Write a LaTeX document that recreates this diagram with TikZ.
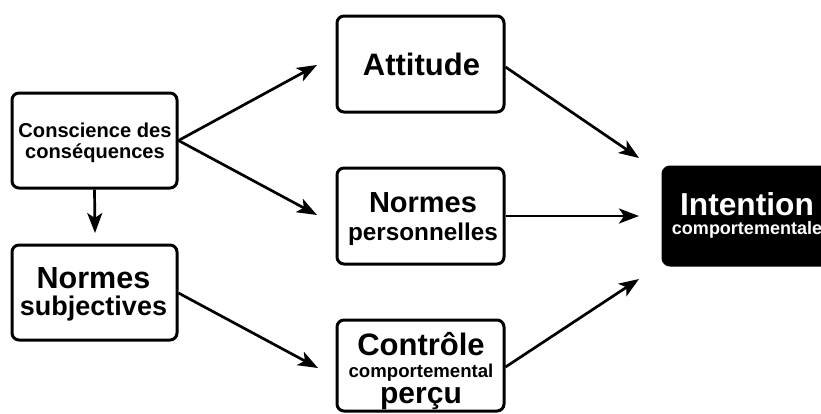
\documentclass[tikz,border=0pt]{standalone}
\usepackage{fontspec}
\setmainfont{Liberation Sans}
\usetikzlibrary{arrows.meta}
\newcommand\stk[2]{\vbox{\baselineskip=#1\lineskiplimit=-100pt\lineskip=0pt\halign{\hfil##\hfil\cr#2\crcr}}}
\newcommand\fs[1]{\fontsize{#1}{#1}\selectfont}
\begin{document}
\begin{tikzpicture}[x=1pt,y=-1pt,
  box/.style={draw=black, line width=3pt, rounded corners=7pt, fill=white, inner sep=0pt},
  txt/.style={anchor=base, inner sep=0pt, font=\bfseries},
  arr/.style={line width=2.7pt, -{Stealth[length=20pt,width=15pt,inset=5pt]}}]
\useasboundingbox (0,0) rectangle (821,413);
\node[box, minimum width=165pt, minimum height=95pt] (cons) at (94.5,140.5) {};
\node[box, minimum width=167pt, minimum height=96pt] (att) at (420.5,64) {};
\node[box, minimum width=167pt, minimum height=96pt] (np) at (420.5,216) {};
\node[box, minimum width=165pt, minimum height=95pt] (ns) at (94.5,292.5) {};
\node[box, minimum width=167pt, minimum height=91pt] (ctrl) at (420.5,365.5) {};
\node[box, fill=black, minimum width=172pt, minimum height=98pt] (int) at (749,216) {};
\node[txt] (tcons) at (95,158) {\stk{21pt}{\fs{20.1}Conscience des\cr\fs{20.1}conséquences}};
\node[txt] (tatt) at (421.5,75) {\fs{31}Attitude};
\node[txt] (tnp) at (423,240) {\stk{28pt}{\fs{29}Normes\cr\fs{24.3}personnelles}};
\node[txt] (tns) at (93.5,315) {\stk{27pt}{\fs{30.5}Normes\cr\fs{27}subjectives}};
\node[txt] (tctrl) at (421,403) {\stk{22pt}{\fs{31}Contrôle\cr\fs{18.6}comportemental\cr\noalign{\vskip4pt}\fs{30}perçu}};
\node[txt, text=white] (tint) at (747,234) {\stk{19pt}{\fs{31.7}Intention\cr\fs{18}comportementale}};
\coordinate (c1) at (317,65);
\coordinate (c2) at (317,215);
\coordinate (c3) at (95,233);
\coordinate (c4) at (639,158);
\coordinate (c5) at (639,216);
\coordinate (c6) at (639,279);
\coordinate (c7) at (318,368);
\draw[arr] (cons.east) -- (c1);
\draw[arr] (cons.east) -- (c2);
\draw[arr] (cons.south) -- (c3);
\draw[arr] (att.east |- 0,67) -- (c4);
\draw[arr] (np.east) -- (c5);
\draw[arr] (ctrl.east |- 0,367) -- (c6);
\draw[arr] (ns.east |- 0,293) -- (c7);
\end{tikzpicture}
\end{document}
